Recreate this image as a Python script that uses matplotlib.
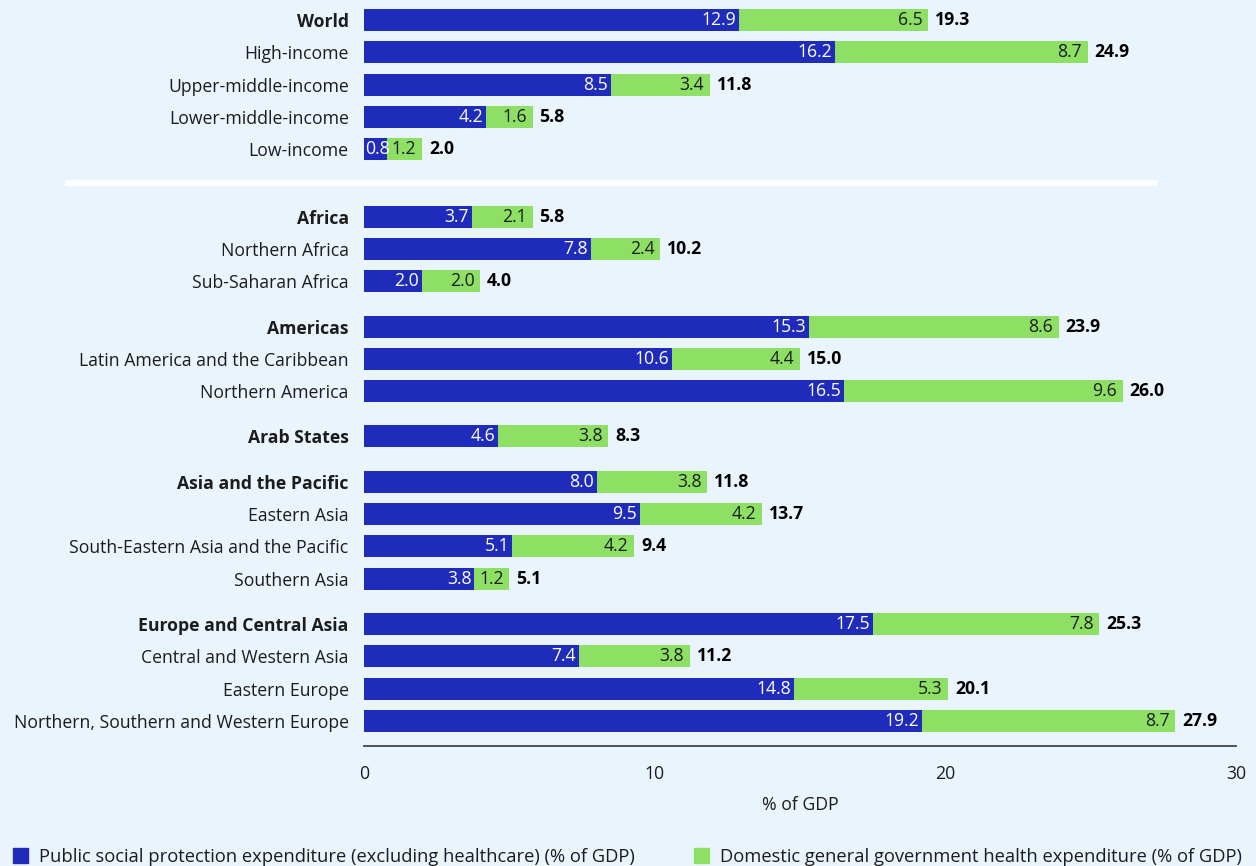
import matplotlib.pyplot as plt
from matplotlib.patches import Patch

plt.rcParams['font.family'] = ['Open Sans', 'DejaVu Sans']

# data
labels = ['World', 'High-income', 'Upper-middle-income', 'Lower-middle-income', 'Low-income',
          'Africa', 'Northern Africa', 'Sub-Saharan Africa',
          'Americas', 'Latin America and the Caribbean', 'Northern America',
          'Arab States',
          'Asia and the Pacific', 'Eastern Asia', 'South-Eastern Asia and the Pacific', 'Southern Asia',
          'Europe and Central Asia', 'Central and Western Asia', 'Eastern Europe',
          'Northern, Southern and Western Europe']
groups = [0, 0, 0, 0, 0, 1, 1, 1, 2, 2, 2, 3, 4, 4, 4, 4, 5, 5, 5, 5]
headers = ['World', 'Africa', 'Americas', 'Arab States', 'Asia and the Pacific',
           'Europe and Central Asia']
social = [12.9, 16.2, 8.5, 4.2, 0.8, 3.7, 7.8, 2.0, 15.3, 10.6, 16.5, 4.6,
          8.0, 9.5, 5.1, 3.8, 17.5, 7.4, 14.8, 19.2]
health = [6.5, 8.7, 3.4, 1.6, 1.2, 2.1, 2.4, 2.0, 8.6, 4.4, 9.6, 3.8,
          3.8, 4.2, 4.2, 1.2, 7.8, 3.8, 5.3, 8.7]
totals = [19.3, 24.9, 11.8, 5.8, 2.0, 5.8, 10.2, 4.0, 23.9, 15.0, 26.0, 8.3,
          11.8, 13.7, 9.4, 5.1, 25.3, 11.2, 20.1, 27.9]

blue = '#1f2bbb'
green = '#8de064'
bg = '#eaf4fd'
txt = '#1c1c1c'

# row positions: one unit per row, extra space between groups
pos = []
y = 0.0
for i, g in enumerate(groups):
    if i > 0:
        y += 1
        if g != groups[i - 1]:
            y += 1.08 if groups[i - 1] == 0 else 0.4
    pos.append(y)

fig = plt.figure(figsize=(12.56, 8.66), dpi=100, facecolor=bg)
ax = fig.add_axes([364 / 1256, 1 - 746 / 866, 872 / 1256, 746 / 866])
ax.set_facecolor(bg)

ax.barh(pos, social, height=0.68, color=blue)
ax.barh(pos, health, left=social, height=0.68, color=green)

fs = 12.7
for p, s, h, t in zip(pos, social, health, totals):
    if s < 1:
        # too short for a right-aligned label: start it at the bar's base
        ax.annotate(f'{s:.1f}', (0, p), xytext=(1, 0), textcoords='offset points',
                    ha='left', va='center', color='white', fontsize=fs)
    else:
        ax.annotate(f'{s:.1f}', (s, p), xytext=(-2, 0), textcoords='offset points',
                    ha='right', va='center', color='white', fontsize=fs)
    ax.annotate(f'{h:.1f}', (s + h, p), xytext=(-4, 0), textcoords='offset points',
                ha='right', va='center', color=txt, fontsize=fs)
    ax.annotate(f'{t:.1f}', (s + h, p), xytext=(5, 0), textcoords='offset points',
                ha='left', va='center', color='black', fontsize=fs, fontweight='bold')

ax.set_yticks(pos)
ax.set_yticklabels(labels, fontsize=fs, color=txt)
for lab in ax.get_yticklabels():
    if lab.get_text() in headers:
        lab.set_fontweight('bold')
ax.tick_params(axis='y', length=0, pad=11)
ax.tick_params(axis='x', length=0, pad=14, labelsize=fs, labelcolor=txt)

ax.set_xlim(0, 30)
ax.set_xticks([0, 10, 20, 30])
ax.set_ylim(pos[-1] + 0.774, -0.62)
ax.set_xlabel('% of GDP', fontsize=fs, color=txt, labelpad=9)

for side in ['top', 'right', 'left']:
    ax.spines[side].set_visible(False)
ax.spines['bottom'].set_color('#444444')
ax.spines['bottom'].set_linewidth(1.3)

# white separator between income groups and regions
fig.add_artist(plt.Line2D([68 / 1256, 1155 / 1256], [1 - 183 / 866, 1 - 183 / 866],
                          color='white', lw=4))

handles = [Patch(color=blue, label='Public social protection expenditure (excluding healthcare) (% of GDP)'),
           Patch(color=green, label='Domestic general government health expenditure (% of GDP)')]
fig.legend(handles=handles, loc='lower left', bbox_to_anchor=(-4 / 1256, -0.019), ncol=2,
           frameon=False, fontsize=13.2, handlelength=0.85, handleheight=0.85,
           handletextpad=0.6, columnspacing=3.2, labelcolor=txt)

fig.savefig('out.png', dpi=100, facecolor=bg)
